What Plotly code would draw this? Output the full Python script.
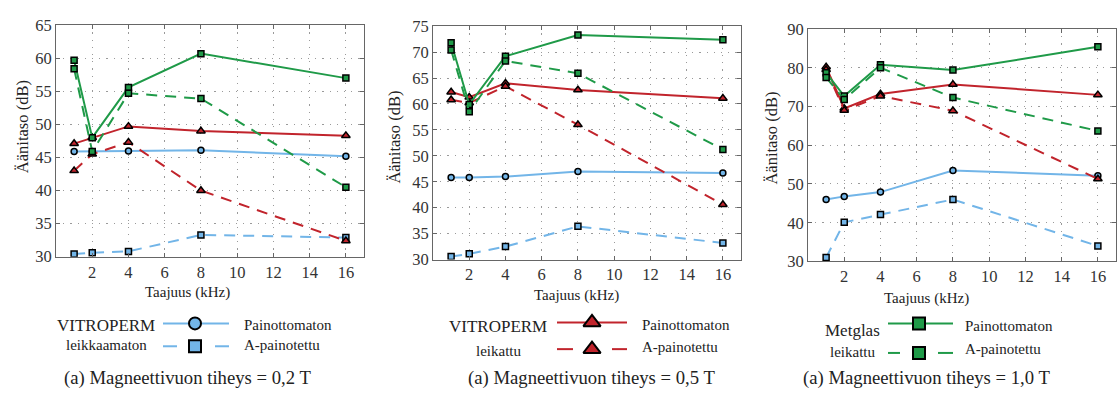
import plotly.graph_objects as go

W, H = 1120, 402
FONT = "Liberation Serif, Times New Roman, serif"

freq = [1, 2, 4, 8, 16]
x_ticks = [2, 4, 6, 8, 10, 12, 14, 16]

# Panel 1: 0,2 T
p1_blue_solid = [45.9, 45.9, 46.0, 46.1, 45.2]
p1_blue_dash = [30.4, 30.6, 30.8, 33.3, 32.9]
p1_red_solid = [47.1, 48.0, 49.7, 49.0, 48.3]
p1_red_dash = [43.0, 45.5, 47.3, 40.0, 32.4]
p1_green_solid = [59.7, 48.0, 55.6, 60.7, 57.0]
p1_green_dash = [58.4, 45.9, 54.7, 53.9, 40.5]

# Panel 2: 0,5 T
p2_blue_solid = [45.8, 45.8, 46.0, 47.0, 46.7]
p2_blue_dash = [30.6, 31.1, 32.5, 36.4, 33.2]
p2_red_solid = [62.3, 61.3, 64.0, 62.7, 61.1]
p2_red_dash = [60.8, 60.2, 63.4, 56.0, 40.6]
p2_green_solid = [71.8, 59.9, 69.2, 73.3, 72.4]
p2_green_dash = [70.4, 58.5, 68.3, 65.9, 51.2]

# Panel 3: 1,0 T
p3_blue_solid = [46.0, 46.8, 47.9, 53.5, 52.1]
p3_blue_dash = [31.0, 40.1, 42.1, 46.0, 34.0]
p3_red_solid = [80.2, 69.5, 73.2, 75.7, 73.0]
p3_red_dash = [79.5, 69.0, 72.7, 68.9, 51.3]
p3_green_solid = [78.7, 72.7, 80.8, 79.4, 85.4]
p3_green_dash = [77.5, 71.8, 80.0, 72.3, 63.7]

y_ranges = [[30, 65], [30, 75], [30, 90]]
y_dticks = [5, 5, 10]
captions = ["(a) Magneettivuon tiheys = 0,2 T",
            "(a) Magneettivuon tiheys = 0,5 T",
            "(a) Magneettivuon tiheys = 1,0 T"]
x_title = "Taajuus (kHz)"
y_title = "Äänitaso (dB)"
lbl_solid = "Painottomaton"
lbl_dash = "A-painotettu"
mat_top = ["VITROPERM", "VITROPERM", "Metglas"]
mat_bot = ["leikkaamaton", "leikattu", "leikattu"]

BLUE = "#72b5e8"
RED = "#c1242c"
GREEN = "#1f9a48"
DASH = "11px,8px"

panels = [
    [(p1_blue_solid, BLUE, "solid", "circle"), (p1_blue_dash, BLUE, DASH, "square"),
     (p1_red_solid, RED, "solid", "triangle-up"), (p1_red_dash, RED, DASH, "triangle-up"),
     (p1_green_solid, GREEN, "solid", "square"), (p1_green_dash, GREEN, DASH, "square")],
    [(p2_blue_solid, BLUE, "solid", "circle"), (p2_blue_dash, BLUE, DASH, "square"),
     (p2_red_solid, RED, "solid", "triangle-up"), (p2_red_dash, RED, DASH, "triangle-up"),
     (p2_green_solid, GREEN, "solid", "square"), (p2_green_dash, GREEN, DASH, "square")],
    [(p3_blue_solid, BLUE, "solid", "circle"), (p3_blue_dash, BLUE, DASH, "square"),
     (p3_red_solid, RED, "solid", "triangle-up"), (p3_red_dash, RED, DASH, "triangle-up"),
     (p3_green_solid, GREEN, "solid", "square"), (p3_green_dash, GREEN, DASH, "square")],
]

# plot areas in pixels: (left, right, top, bottom)
boxes = [(56, 364, 17, 260), (433, 741, 18, 263), (808, 1116, 21, 265)]

fig = go.Figure()
layout = dict(width=W, height=H, margin=dict(l=0, r=0, t=0, b=0),
              paper_bgcolor="white", plot_bgcolor="rgba(0,0,0,0)", showlegend=False,
              font=dict(family=FONT, color="#333333"))

for i, (series, box) in enumerate(zip(panels, boxes)):
    n = i + 1
    xa = "x" if n == 1 else f"x{n}"
    ya = "y" if n == 1 else f"y{n}"
    for vals, col, dash, sym in series:
        fig.add_trace(go.Scatter(
            x=freq, y=vals, xaxis=xa, yaxis=ya, mode="lines+markers",
            line=dict(color=col, width=2, dash=dash),
            marker=dict(symbol=sym, size=6 if sym != "triangle-up" else 7.5,
                        color=col, line=dict(color="black", width=1.5)),
        ))
    l, r, t, b = box
    axis_common = dict(showline=True, mirror="ticks", linecolor="#666666", linewidth=1,
                       ticks="inside", ticklen=4, tickcolor="#666666",
                       showgrid=True, gridcolor="#9a9a9a", griddash="1.2px,6px", gridwidth=1.2,
                       zeroline=False,
                       tickfont=dict(family=FONT, size=16.5, color="#333333"))
    layout["xaxis" if n == 1 else f"xaxis{n}"] = dict(
        axis_common, domain=[l / W, r / W], range=[0, 17], tickvals=x_ticks,
        anchor=ya)
    layout["yaxis" if n == 1 else f"yaxis{n}"] = dict(
        axis_common, domain=[1 - b / H, 1 - t / H], range=y_ranges[i],
        dtick=y_dticks[i], anchor=xa)

# overlay axis in pixel units for legend samples
layout["xaxis4"] = dict(domain=[0, 1], range=[0, W], visible=False, fixedrange=True)
layout["yaxis4"] = dict(domain=[0, 1], range=[H, 0], visible=False, fixedrange=True,
                        anchor="x4")

legend_geo = [
    # (line x0, x1, marker x, y solid, y dash, dash gap x0, dash gap x1)
    (163, 229, 195, 330, 354, 177, 215),
    (557, 627, 592, 329, 357, 573, 612),
    (888, 953, 919, 330, 361, 900, 938),
]
legend_style = [(BLUE, "circle", "square", 12), (RED, "triangle-up", "triangle-up", 15),
                (GREEN, "square", "square", 12)]

for (x0, x1, xm, ys, yd, g0, g1), (col, s1, s2, ms) in zip(legend_geo, legend_style):
    fig.add_trace(go.Scatter(x=[x0, x1], y=[ys, ys], xaxis="x4", yaxis="y4", mode="lines",
                             line=dict(color=col, width=2), hoverinfo="skip"))
    fig.add_trace(go.Scatter(x=[x0, g0, None, g1, x1], y=[yd, yd, None, yd, yd],
                             xaxis="x4", yaxis="y4", mode="lines",
                             line=dict(color=col, width=2), hoverinfo="skip"))
    fig.add_trace(go.Scatter(x=[xm, xm], y=[ys, yd], xaxis="x4", yaxis="y4", mode="markers",
                             marker=dict(symbol=[s1, s2], size=ms, color=col,
                                         line=dict(color="black", width=2)),
                             hoverinfo="skip"))

ann = []


def txt(s, x, y, size, anchor="center", angle=0):
    ann.append(dict(text=s, x=x / W, y=1 - y / H, xref="paper", yref="paper",
                    xanchor=anchor, yanchor="middle", showarrow=False, textangle=angle,
                    font=dict(family=FONT, size=size, color="#222222")))


ytitle_pos = [(22, 124), (395, 135), (772, 136)]
xtitle_x = [188, 576, 926]
xtitle_y = [298, 301, 304]
mat_x = [106, 498, 852]
mat_y = [(332, 353), (333, 359), (337, 360)]
lbl_x = [242, 640, 963]
lbl_y = [(332, 353), (332, 355), (333, 357)]
cap_x = [188, 591, 926]

for i in range(3):
    txt(y_title, ytitle_pos[i][0], ytitle_pos[i][1], 16.5, angle=-90)
    txt(x_title, xtitle_x[i], xtitle_y[i], 15)
    txt(mat_top[i], mat_x[i], mat_y[i][0], 17)
    txt(mat_bot[i], mat_x[i], mat_y[i][1], 15)
    txt(lbl_solid, lbl_x[i], lbl_y[i][0], 15, anchor="left")
    txt(lbl_dash, lbl_x[i], lbl_y[i][1], 15, anchor="left")
    txt(captions[i], cap_x[i], 387, 18.7)

layout["annotations"] = ann
fig.update_layout(**layout)
fig.write_html("out.html", config={"displayModeBar": False},
               post_script="document.body.style.margin='0px';document.body.style.overflow='hidden';")
